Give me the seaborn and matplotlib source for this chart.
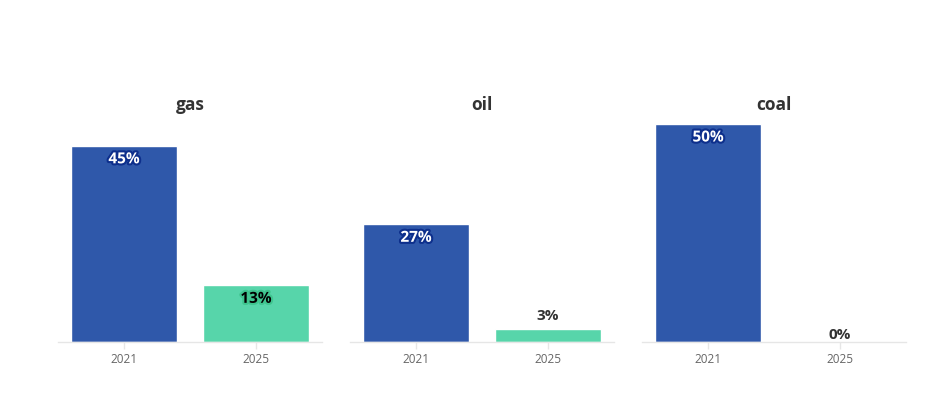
import matplotlib
matplotlib.use("Agg")
import matplotlib.pyplot as plt
import matplotlib.patheffects as pe
import seaborn as sns
import pandas as pd

fuels = ["gas", "oil", "coal"]
years = ["2021", "2025"]
values_2021 = [45, 27, 50]
values_2025 = [13, 3, 0]
colors = {"2021": "#2f58aa", "2025": "#57d5aa"}

sns.set_theme(style="white")
plt.rcParams['font.family'] = ['Open Sans', 'DejaVu Sans']

fig = plt.figure(figsize=(9.32, 3.93), dpi=100)
lefts = [58, 350, 642]
W, H = 932, 393
axw = 264
bottom = 51
height = 218

for i, fuel in enumerate(fuels):
    ax = fig.add_axes([lefts[i] / W, bottom / H, axw / W, height / H])
    df = pd.DataFrame({"year": years, "value": [values_2021[i], values_2025[i]]})
    sns.barplot(data=df, x="year", y="value", hue="year", palette=colors,
                width=0.8, ax=ax, legend=False, saturation=1)
    ax.set_ylim(0, 50)
    ax.set_xlim(-0.5, 1.5)
    for s in ["top", "right", "left"]:
        ax.spines[s].set_visible(False)
    ax.spines["bottom"].set_color("#e6e6e6")
    ax.spines["bottom"].set_linewidth(1)
    ax.set_yticks([])
    ax.set_ylabel("")
    ax.set_xlabel("")
    ax.tick_params(axis="x", colors="#e6e6e6", length=5, width=1, bottom=True,
                   labelcolor="#666666", labelsize=8.5, pad=3)
    ax.set_title(fuel, fontsize=12.5, fontweight="bold", color="#333333", pad=10)
    for j, v in enumerate([values_2021[i], values_2025[i]]):
        txt = f"{v}%"
        if v >= 10:
            y = v - 3.1
            if j == 0:
                ax.text(j, y, txt, ha="center", va="center", fontsize=11, fontweight="bold",
                        color="white",
                        path_effects=[pe.withStroke(linewidth=3, foreground="#0d2f8c")])
            else:
                ax.text(j, y, txt, ha="center", va="center", fontsize=11, fontweight="bold",
                        color="black",
                        path_effects=[pe.withStroke(linewidth=3, foreground="#3fc58f")])
        else:
            y = v + 3 if v > 0 else 1.6
            ax.text(j, y, txt, ha="center", va="center", fontsize=11, fontweight="bold",
                    color="#333333")

fig.savefig("out.png", dpi=100)
